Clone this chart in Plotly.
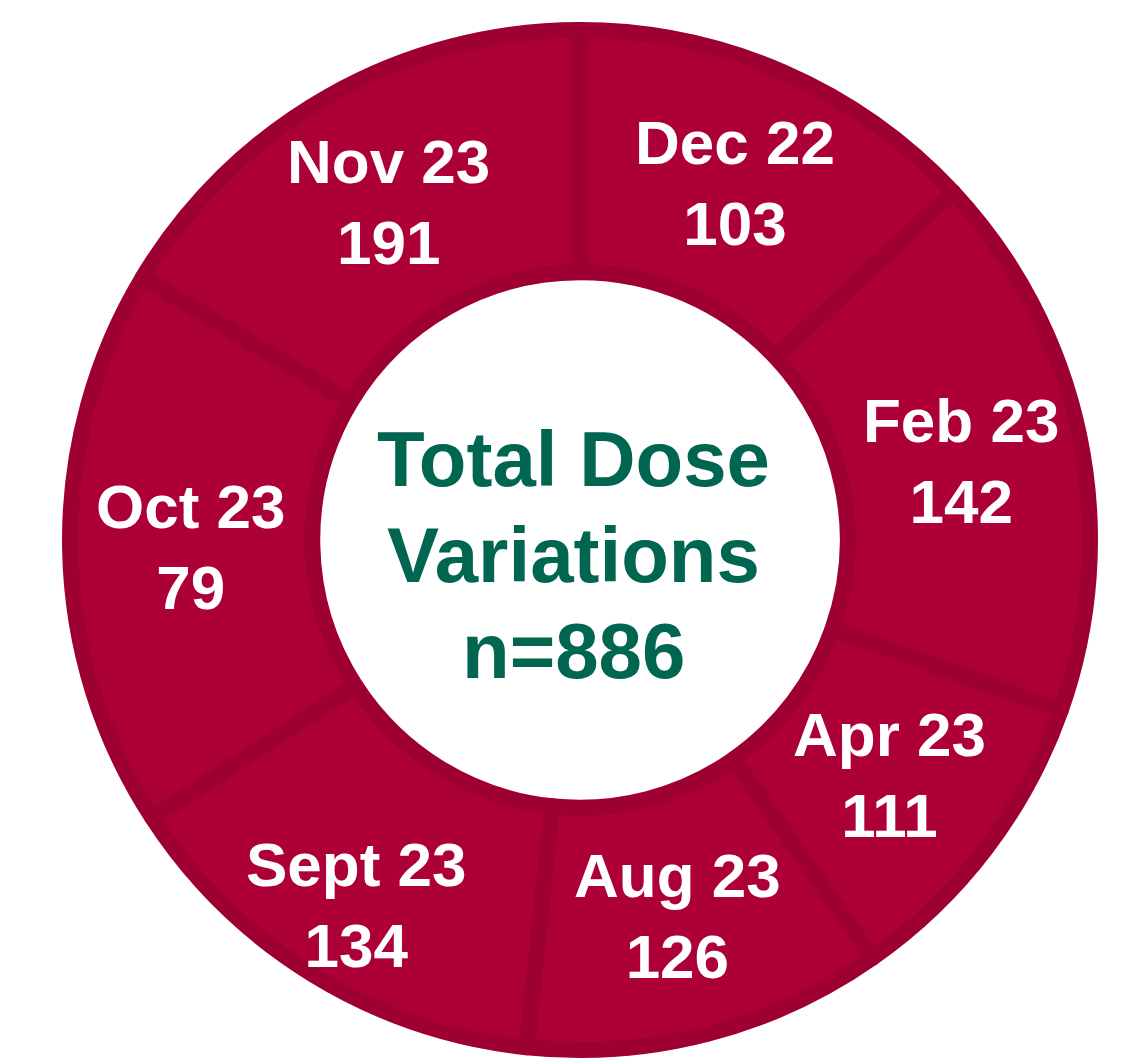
import math
import plotly.graph_objects as go

# Months shown around the ring (clockwise from 12 o'clock)
months = ["Dec 22", "Feb 23", "Apr 23", "Aug 23", "Sept 23", "Oct 23", "Nov 23"]
# Dose-variation counts printed in each segment
counts = [103, 142, 111, 126, 134, 79, 191]
# Angular share of each segment as drawn in the picture (degrees)
segment_share = [47, 62.5, 35.5, 41, 51, 64, 59]

total = sum(counts)
center_lines = ["Total Dose", "Variations", f"n={total}"]

W, H = 1139, 1063
FILL = "#AD0037"
EDGE = "#9E0032"
GREEN = "#006650"
FONT = "Liberation Sans, Arial, Helvetica, sans-serif"

# geometry of the ring (pixels in figure coordinates)
CX, CY = 572, 532          # centre, from left / from top
R_OUT = 510
HOLE = 0.525
LABEL_R = R_OUT * (1 + HOLE) / 2
label_r_tweak = {"Sept 23": 1.1}   # small manual nudge of one label

fig = go.Figure(
    go.Pie(
        labels=months,
        values=segment_share,
        customdata=counts,
        textinfo="none",
        sort=False,
        direction="clockwise",
        rotation=0,
        hole=HOLE,
        marker=dict(colors=[FILL] * len(months), line=dict(color=EDGE, width=16)),
        hovertemplate="%{label}: %{customdata}<extra></extra>",
        showlegend=False,
        domain=dict(x=[(CX - R_OUT) / W, (CX + R_OUT) / W],
                    y=[(H - CY - R_OUT) / H, (H - CY + R_OUT) / H]),
    )
)

# segment labels at the bisector of each slice, middle of the ring
tot_share = sum(segment_share)
cum = 0.0
for m, c, s in zip(months, counts, segment_share):
    mid = (cum + s / 2) / tot_share * 2 * math.pi
    cum += s
    r = LABEL_R * label_r_tweak.get(m, 1.0)
    px = CX + r * math.sin(mid)
    py = CY - r * math.cos(mid)
    fig.add_annotation(
        text=f"<b>{m}<br>{c}</b>",
        x=px / W, y=(H - py) / H, xref="paper", yref="paper",
        xanchor="center", yanchor="middle", showarrow=False,
        font=dict(family=FONT, size=62, color="white"),
    )

# centre text, one line per annotation
for i, line in enumerate(center_lines):
    fig.add_annotation(
        text=f"<b>{line}</b>",
        x=(CX - 7) / W, y=(H - (CY + 15 + (i - 1) * 96)) / H,
        xref="paper", yref="paper",
        xanchor="center", yanchor="middle", showarrow=False,
        font=dict(family=FONT, size=78, color=GREEN),
    )

fig.update_layout(
    width=W, height=H,
    margin=dict(l=0, r=0, t=0, b=0),
    paper_bgcolor="white", plot_bgcolor="white",
)

fig.write_html("out.html")
